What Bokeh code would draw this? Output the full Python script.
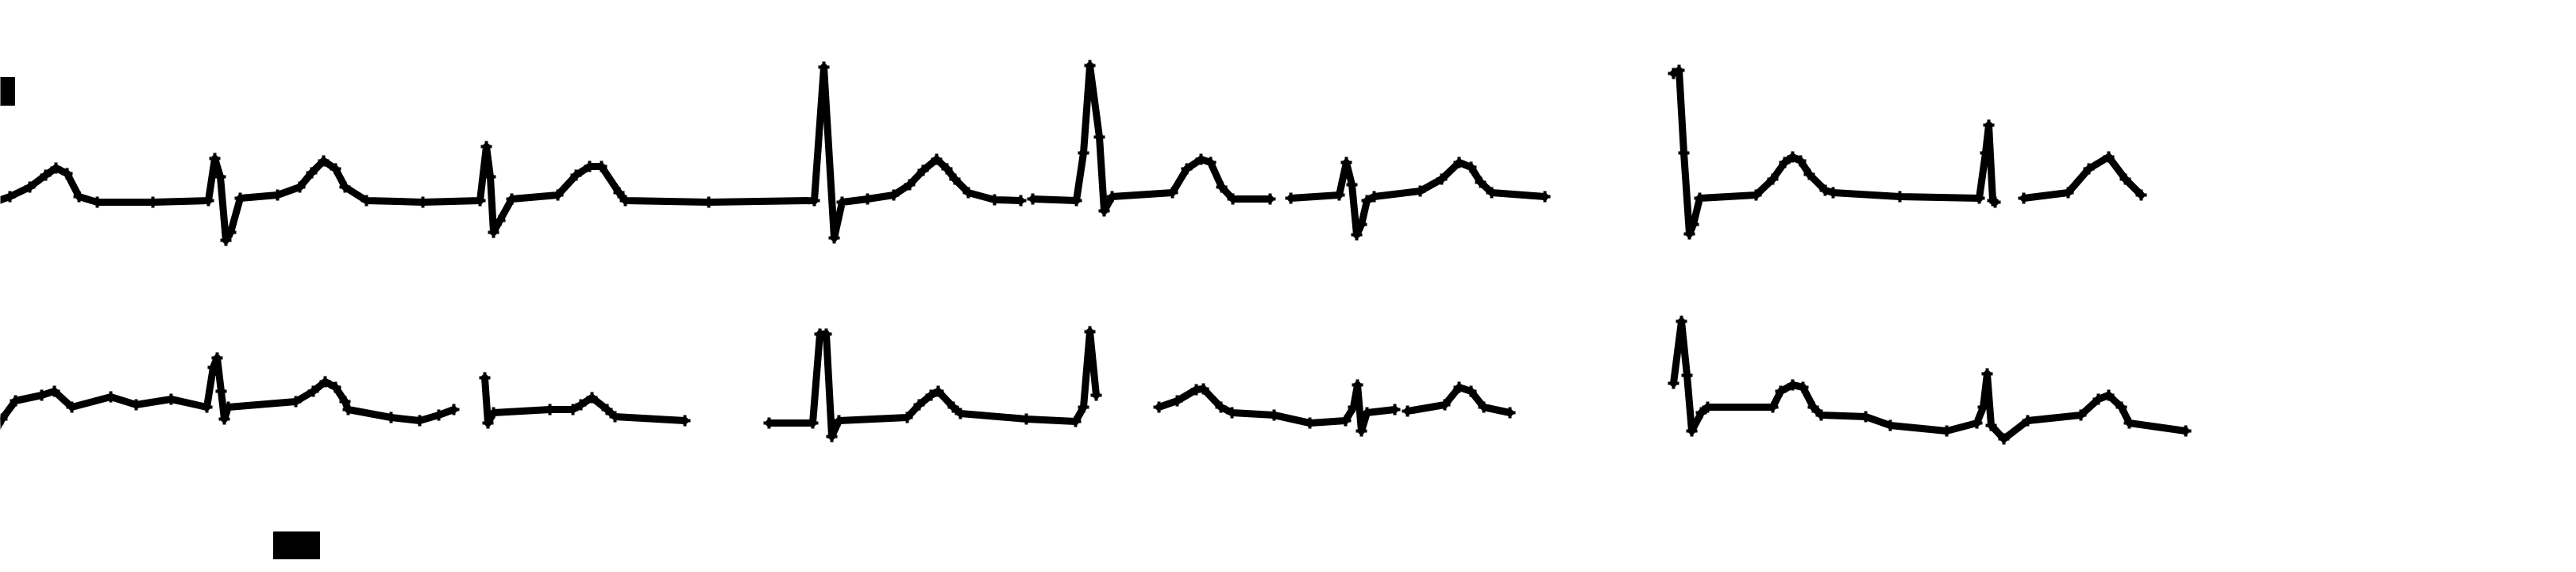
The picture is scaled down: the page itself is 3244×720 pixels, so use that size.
from bokeh.plotting import figure
from bokeh.models import Range1d
from bokeh.embed import file_html
from bokeh.resources import INLINE

# ---- ECG trace segments (page-pixel coordinates) ----
top_1_x = [0, 20, 45, 65, 78, 92, 107, 130, 200, 270, 278, 285, 292, 298, 310, 357, 385, 400, 415, 430, 442, 469, 540, 612, 620, 625, 629, 637, 652, 710, 733, 750, 765, 787, 795, 900, 1033, 1045, 1058, 1068, 1100, 1133, 1153, 1170, 1187, 1200, 1210, 1227, 1260, 1293]
top_1_y = [262, 255, 243, 228, 219, 226, 255, 262, 262, 260, 207, 230, 310, 300, 257, 253, 243, 225, 210, 220, 243, 260, 262, 260, 192, 230, 300, 285, 258, 253, 228, 217, 217, 250, 260, 262, 260, 92, 307, 262, 258, 253, 240, 222, 208, 220, 233, 250, 259, 260]

top_2_x = [1308, 1363, 1372, 1380, 1392, 1398, 1408, 1484, 1502, 1520, 1532, 1546, 1560, 1607]
top_2_y = [258, 260, 200, 90, 180, 273, 255, 250, 220, 208, 212, 243, 258, 258]

top_3_x = [1633, 1694, 1703, 1710, 1716, 1722, 1729, 1738, 1796, 1823, 1845, 1860, 1872, 1886, 1953]
top_3_y = [257, 253, 212, 240, 303, 290, 260, 255, 248, 233, 212, 218, 237, 250, 255]

top_4_x = [2115, 2122, 2128, 2135, 2140, 2148, 2219, 2240, 2255, 2265, 2275, 2286, 2306, 2316, 2400, 2500, 2508, 2512, 2517, 2520]
top_4_y = [100, 96, 200, 302, 290, 257, 253, 233, 212, 205, 210, 227, 247, 250, 255, 257, 200, 165, 260, 262]

top_5_x = [2556, 2612, 2638, 2663, 2684, 2704]
top_5_y = [257, 250, 220, 205, 233, 253]

bot_1_x = [0, 10, 27, 60, 76, 98, 147, 179, 223, 268, 276, 281, 286, 290, 295, 380, 402, 417, 430, 442, 446, 500, 536, 560, 579]
bot_1_y = [553, 535, 512, 505, 500, 520, 507, 517, 510, 520, 470, 458, 500, 535, 520, 513, 500, 488, 495, 513, 523, 533, 537, 530, 523]

bot_2_x = [618, 622, 629, 700, 729, 739, 753, 772, 782, 870]
bot_2_y = [483, 540, 527, 523, 523, 517, 508, 523, 532, 537]

bot_3_x = [976, 1031, 1040, 1048, 1055, 1064, 1150, 1165, 1180, 1189, 1208, 1217, 1300, 1362, 1372, 1380, 1388]
bot_3_y = [540, 540, 428, 428, 557, 537, 533, 517, 505, 500, 520, 528, 535, 538, 520, 425, 505]

bot_4_x = [1467, 1490, 1514, 1523, 1545, 1559, 1612, 1657, 1702, 1712, 1717, 1722, 1729, 1764]
bot_4_y = [520, 512, 498, 497, 520, 527, 530, 540, 537, 520, 492, 550, 527, 523]

bot_5_x = [1780, 1827, 1845, 1860, 1876, 1909]
bot_5_y = [525, 517, 495, 500, 520, 527]

bot_6_x = [2115, 2125, 2132, 2138, 2150, 2158, 2240, 2250, 2265, 2278, 2291, 2301, 2357, 2388, 2459, 2497, 2505, 2510, 2515, 2531, 2561, 2628, 2650, 2663, 2679, 2689, 2760]
bot_6_y = [490, 412, 480, 550, 527, 520, 520, 500, 492, 495, 520, 530, 532, 543, 550, 540, 520, 478, 543, 560, 537, 530, 510, 505, 520, 540, 550]

# ---- solid marker blocks ----
block_left = [0, 352]
block_right = [26, 410]
block_top = [105, 677]
block_bottom = [140, 720]

segments_x = [top_1_x, top_2_x, top_3_x, top_4_x, top_5_x,
              bot_1_x, bot_2_x, bot_3_x, bot_4_x, bot_5_x, bot_6_x]
segments_y = [top_1_y, top_2_y, top_3_y, top_4_y, top_5_y,
              bot_1_y, bot_2_y, bot_3_y, bot_4_y, bot_5_y, bot_6_y]

W, H = 3228, 704
p = figure(width=W, height=H, output_backend="svg", toolbar_location=None,
           x_range=Range1d(8, 8 + W), y_range=Range1d(8 + H, 8),
           min_border=0, min_border_left=0, min_border_right=0,
           min_border_top=0, min_border_bottom=0)
p.axis.visible = False
p.grid.visible = False
p.outline_line_color = None
p.background_fill_color = "white"
p.border_fill_color = "white"

p.multi_line(xs=segments_x, ys=segments_y, line_color="black", line_width=9,
             line_join="round", line_cap="round")

all_x = [x for seg in segments_x for x in seg]
all_y = [y for seg in segments_y for y in seg]
p.scatter(x=all_x, y=all_y, marker="cross", size=14, line_width=4,
          line_color="black")

p.quad(left=block_left, right=block_right, top=block_top, bottom=block_bottom,
       fill_color="black", line_color="black")

open("out.html", "w").write(file_html(p, INLINE))
